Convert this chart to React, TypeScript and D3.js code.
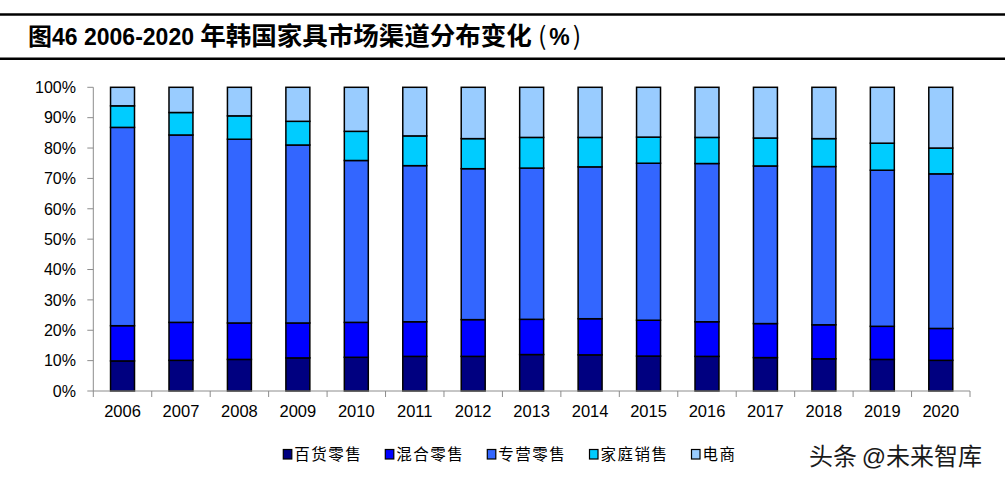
import React from 'react';
import * as d3 from 'd3';

const years = ['2006','2007','2008','2009','2010','2011','2012','2013','2014','2015','2016','2017','2018','2019','2020'];
const seriesNames = ['百货零售','混合零售','专营零售','家庭销售','电商'];
const baihuo = [9.9,10.1,10.4,10.9,11.1,11.4,11.4,12.0,11.9,11.5,11.4,11.0,10.6,10.4,10.1];
const hunhe = [11.6,12.5,12.0,11.5,11.5,11.4,12.1,11.6,11.9,11.8,11.4,11.2,11.2,10.9,10.5];
const zhuanying = [65.3,61.7,60.5,58.6,53.3,51.4,49.7,49.8,50.0,51.7,52.1,51.9,52.1,51.4,50.9];
const jiating = [7.1,7.4,7.7,7.8,9.6,9.8,9.9,10.1,9.7,8.6,8.6,9.2,9.2,8.9,8.5];
const dianshang = [6.1,8.3,9.4,11.2,14.5,16.0,16.9,16.5,16.5,16.4,16.5,16.7,16.9,18.4,20.0];
const yTicks = [0,10,20,30,40,50,60,70,80,90,100];
const colors = ['#000080','#0000FF','#3366FF','#00CCFF','#99CCFF'];

const W = 1005, H = 484;
const left = 93.3, right = 970, top = 87.3, bottom = 391;

export default function App() {
  const allSeries = [baihuo, hunhe, zhuanying, jiating, dianshang];
  const rows = years.map((y, i) => {
    const r: any = { year: y };
    seriesNames.forEach((n, k) => { r[n] = allSeries[k][i]; });
    return r;
  });
  const stacked = d3.stack().keys(seriesNames)(rows);
  const x = d3.scaleBand().domain(years).range([left, right]).paddingInner(0.59).paddingOuter(0.295);
  const xb = d3.scaleBand().domain(years).range([left, right]);
  const y = d3.scaleLinear().domain([0, 100]).range([bottom, top]);
  const axisColor = '#8c8c8c';
  const font = '"Liberation Sans", Arial, "Noto Sans CJK SC", sans-serif';
  const cjk = '"Noto Sans CJK SC", sans-serif';
  const legendX = [283.3, 385.3, 487.3, 589.5, 691.5];

  return (
    <svg width={W} height={H} style={{ position: 'absolute', left: 0, top: 0, background: '#fff' }}>
      <rect x={0} y={0} width={W} height={H} fill="#fff" />
      <line x1={0} x2={W} y1={14.5} y2={14.5} stroke="#000" strokeWidth={2.5} />
      <line x1={0} x2={W} y1={58.8} y2={58.8} stroke="#000" strokeWidth={2.5} />
      <text x={28} y={45} fontWeight="bold" fill="#000">
        <tspan fontFamily={cjk} fontSize={24}>图</tspan>
        <tspan fontFamily={font} fontSize={23}>46 2006-2020 </tspan>
        <tspan fontFamily={cjk} fontSize={25.5}>年韩国家具市场渠道分布变化</tspan>
        <tspan fontFamily={cjk} fontSize={25} fontWeight="normal" dx={6}>(</tspan>
        <tspan fontFamily={font} fontSize={23} dx={3}>%</tspan>
        <tspan fontFamily={cjk} fontSize={25} fontWeight="normal" dx={3}>)</tspan>
      </text>

      {stacked.map((s, k) => (
        <g key={k}>
          {s.map((d, i) => (
            <rect key={i} x={x(years[i])} y={y(d[1])} width={x.bandwidth()} height={y(d[0]) - y(d[1])}
              fill={colors[k]} stroke="#000" strokeWidth={1.5} />
          ))}
        </g>
      ))}

      <line x1={left} x2={left} y1={top} y2={bottom} stroke={axisColor} strokeWidth={1} />
      {yTicks.map(t => (
        <g key={t}>
          <line x1={left - 6} x2={left} y1={y(t)} y2={y(t)} stroke={axisColor} strokeWidth={1} />
          <text x={76} y={y(t)} dy="0.36em" textAnchor="end" fontFamily={font} fontSize={16} fill="#000">{t}%</text>
        </g>
      ))}
      <line x1={left} x2={right} y1={bottom} y2={bottom} stroke={axisColor} strokeWidth={1} />
      {years.map((yr, i) => (
        <line key={'t' + yr} x1={(xb(yr) as number) + xb.bandwidth()} x2={(xb(yr) as number) + xb.bandwidth()} y1={bottom} y2={bottom + 6} stroke={axisColor} strokeWidth={1} />
      ))}
      <line x1={left} x2={left} y1={bottom} y2={bottom + 6} stroke={axisColor} strokeWidth={1} />
      {years.map(yr => (
        <text key={yr} x={(x(yr) as number) + x.bandwidth() / 2} y={416.5} textAnchor="middle" fontFamily={font} fontSize={16.5} fill="#000">{yr}</text>
      ))}

      {seriesNames.map((n, k) => (
        <g key={n}>
          <rect x={legendX[k]} y={449.5} width={8.5} height={9.5} fill={colors[k]} stroke="#000" strokeWidth={1.2} />
          <text x={legendX[k] + 11} y={460} fontFamily={cjk} fontSize={15.5} letterSpacing={1.5} fill="#000">{n}</text>
        </g>
      ))}

      <text x={809} y={465} fontFamily={font} fontSize={24} fill="#1a1a1a">
        <tspan>头条</tspan>
        <tspan dx={-2}> @未来智库</tspan>
      </text>
    </svg>
  );
}
